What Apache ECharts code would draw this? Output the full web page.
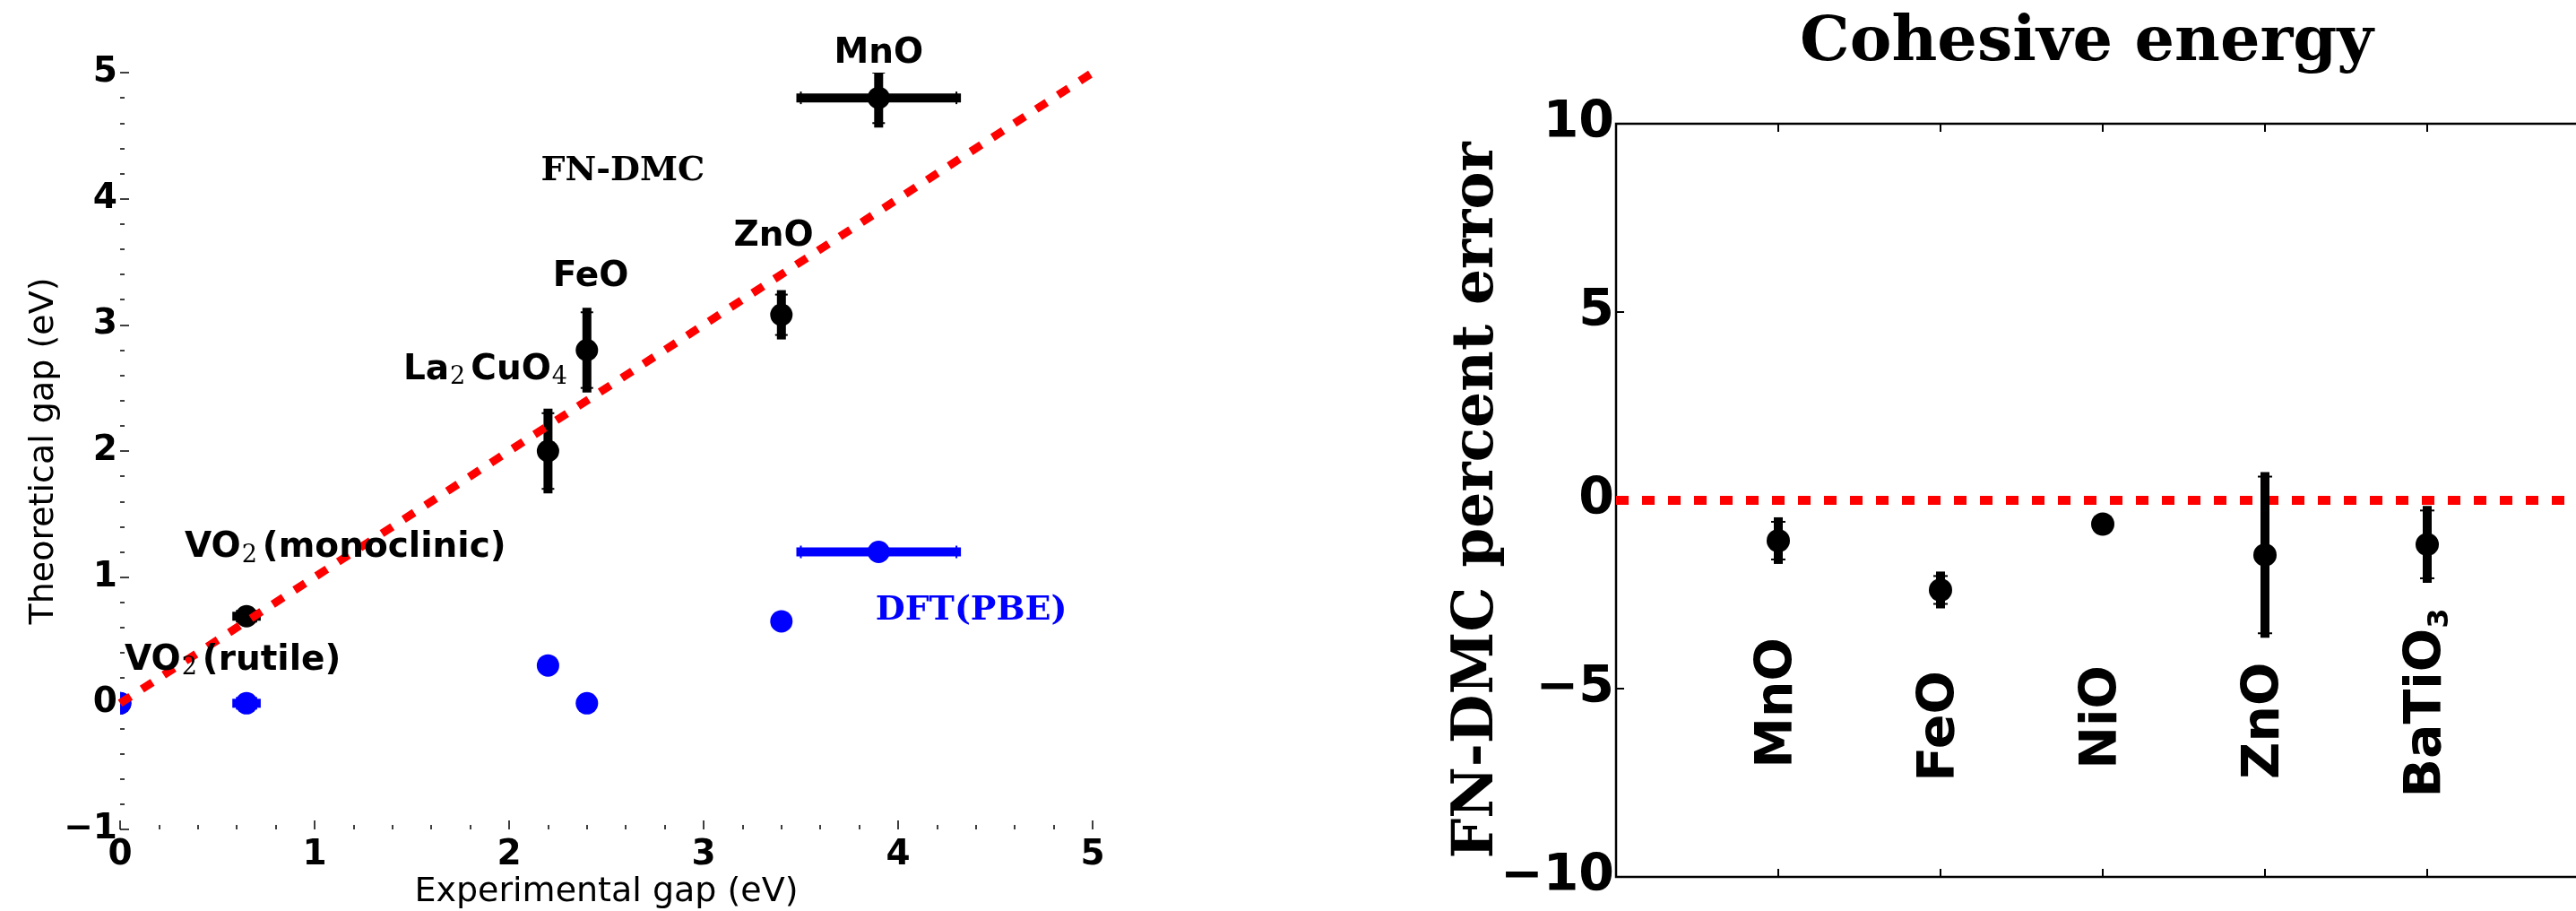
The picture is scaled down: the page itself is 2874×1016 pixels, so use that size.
<!DOCTYPE html>
<html>
<head>
<meta charset="utf-8">
<title>Band gaps and cohesive energy</title>
<script src="https://cdn.jsdelivr.net/npm/echarts@6/dist/echarts.min.js"></script>
<style>
  html, body { margin: 0; padding: 0; background: #fff; }
  #chart { width: 2874px; height: 1016px; }
</style>
</head>
<body>
<div id="chart"></div>
<script>
// left panel: band gaps (eV)
const gapLabels = ['{b|VO}{s|2}{b|(rutile)}', '{b|VO}{s|2}{b|(monoclinic)}', '{b|La}{s|2}{b|CuO}{s|4}', '{b|FeO}', '{b|ZnO}', '{b|MnO}']
const expGap = [0, 0.65, 2.2, 2.4, 3.4, 3.9]
const expGapErr = [0, 0.05, 0, 0, 0, 0.4]
const dmcGap = [0, 0.69, 2.0, 2.8, 3.08, 4.8]
const dmcGapErr = [0, 0, 0.3, 0.3, 0.16, 0.2]
const pbeGap = [0, 0, 0.3, 0, 0.65, 1.2]
// where each system name is written (data coords)
const gapLabelX = [0.023, 0.332, 1.456, 2.42, 3.36, 3.90]
const gapLabelY = [0.34, 1.23, 2.64, 3.38, 3.70, 5.15]
const gapLabelAlign = ['left', 'left', 'left', 'center', 'center', 'center']
const methodNames = ['FN-DMC', 'DFT(PBE)']
const methodX = [2.585, 4.376]
const methodY = [4.22, 0.736]
const parityLine = [[0, 0], [5, 5]]

// right panel: cohesive energy, FN-DMC percent error
const cohLabels = ['{b|MnO}', '{b|FeO}', '{b|NiO}', '{b|ZnO}', '{b|BaTiO}{s|3}']
const cohPos = [1, 2, 3, 4, 5]
const cohErr = [-1.07, -2.38, -0.63, -1.45, -1.17]
const cohErrBar = [0.5, 0.37, 0, 2.08, 0.9]
const cohLabelY = [-5.38, -6.0, -5.76, -5.85, -5.38]
const zeroLine = [[0, 0], [6, 0]]

const BLACK = '#000000'
const BLUE = '#0000ff'
const RED = '#ff0000'
const SANS = 'DejaVu Sans'
const SERIF = 'DejaVu Serif'

const minus = v => String(v).replace('-', '\u2212')

// dot + error bars, drawn through the axes' scales
function errorPoint(color, lw, capHalf, r) {
  return function (params, api) {
    const x = api.value(0), y = api.value(1), xe = api.value(2), ye = api.value(3)
    const c = api.coord([x, y])
    const kids = []
    const bar = { stroke: color, lineWidth: lw, lineCap: 'square' }
    const cap = { stroke: color, lineWidth: 2 }
    if (xe > 0) {
      const a = api.coord([x - xe, y]), b = api.coord([x + xe, y])
      kids.push({ type: 'line', shape: { x1: a[0], y1: a[1], x2: b[0], y2: b[1] }, style: bar })
      kids.push({ type: 'line', shape: { x1: a[0], y1: a[1] - capHalf, x2: a[0], y2: a[1] + capHalf }, style: cap })
      kids.push({ type: 'line', shape: { x1: b[0], y1: b[1] - capHalf, x2: b[0], y2: b[1] + capHalf }, style: cap })
    }
    if (ye > 0) {
      const a = api.coord([x, y - ye]), b = api.coord([x, y + ye])
      kids.push({ type: 'line', shape: { x1: a[0], y1: a[1], x2: b[0], y2: b[1] }, style: bar })
      kids.push({ type: 'line', shape: { x1: a[0] - capHalf, y1: a[1], x2: a[0] + capHalf, y2: a[1] }, style: cap })
      kids.push({ type: 'line', shape: { x1: b[0] - capHalf, y1: b[1], x2: b[0] + capHalf, y2: b[1] }, style: cap })
    }
    kids.push({ type: 'circle', shape: { cx: c[0], cy: c[1], r: r }, style: { fill: color } })
    return { type: 'group', children: kids }
  }
}

// text placed at a data point
function textAt(texts, rich, opts) {
  return function (params, api) {
    const i = params.dataIndex
    const p = api.coord([api.value(0), api.value(1)])
    return {
      type: 'text',
      x: p[0],
      y: p[1],
      rotation: opts.rotation || 0,
      style: {
        text: texts[i],
        rich: rich,
        fill: opts.color || BLACK,
        align: opts.align ? opts.align[i] : 'center',
        verticalAlign: 'middle'
      }
    }
  }
}

const gapRich = {
  b: { fontFamily: SANS, fontWeight: 'bold', fontSize: 39, lineHeight: 44, fill: BLACK },
  s: { fontFamily: SERIF, fontWeight: 'normal', fontSize: 27, lineHeight: 18, verticalAlign: 'bottom',
       padding: [0, 6, 0, 1], fill: BLACK }
}
const cohRich = {
  b: { fontFamily: SANS, fontWeight: 'bold', fontSize: 57, lineHeight: 62, fill: BLACK },
  s: { fontFamily: SANS, fontWeight: 'bold', fontSize: 32, lineHeight: 8, verticalAlign: 'bottom', fill: BLACK }
}

const tickStyle = { color: BLACK, width: 1.5 }

const option = {
  animation: false,
  backgroundColor: '#fff',
  title: {
    text: 'Cohesive energy',
    left: 2328,
    top: 14,
    padding: 0,
    textAlign: 'center',
    textStyle: { fontFamily: SERIF, fontWeight: 'bold', fontSize: 70, color: BLACK }
  },
  grid: [
    { left: 134, top: 81, width: 1085, height: 844, outerBoundsMode: 'none' },
    { left: 1803, top: 138, width: 1086, height: 840, outerBoundsMode: 'none',
      show: true, borderColor: BLACK, borderWidth: 2.5, backgroundColor: 'transparent' }
  ],
  xAxis: [
    {
      gridIndex: 0, type: 'value', min: 0, max: 5, interval: 1,
      axisLine: { show: false, onZero: false },
      axisTick: { inside: true, length: 10, lineStyle: tickStyle },
      minorTick: { show: true, splitNumber: 5, length: 5, lineStyle: tickStyle },
      splitLine: { show: false },
      axisLabel: { fontFamily: SANS, fontWeight: 'bold', fontSize: 39, color: BLACK, margin: 9, formatter: minus },
      name: 'Experimental gap (eV)', nameLocation: 'middle', nameGap: 51, nameMoveOverlap: false,
      nameTextStyle: { fontFamily: SANS, fontSize: 38, color: BLACK }
    },
    {
      gridIndex: 1, type: 'value', min: 0, max: 6, interval: 1,
      axisLine: { show: false, onZero: false },
      axisTick: { inside: true, length: 9, lineStyle: { color: BLACK, width: 2 } },
      splitLine: { show: false },
      axisLabel: { show: false }
    },
    {
      gridIndex: 1, type: 'value', position: 'top', min: 0, max: 6, interval: 1,
      axisLine: { show: false, onZero: false },
      axisTick: { inside: true, length: 9, lineStyle: { color: BLACK, width: 2 } },
      splitLine: { show: false },
      axisLabel: { show: false }
    }
  ],
  yAxis: [
    {
      gridIndex: 0, type: 'value', min: -1, max: 5, interval: 1,
      axisLine: { show: false, onZero: false },
      axisTick: { inside: true, length: 10, lineStyle: tickStyle },
      minorTick: { show: true, splitNumber: 5, length: 5, lineStyle: tickStyle },
      splitLine: { show: false },
      axisLabel: { fontFamily: SANS, fontWeight: 'bold', fontSize: 39, color: BLACK, margin: 3, formatter: minus },
      name: 'Theoretical gap (eV)', nameLocation: 'middle', nameRotate: 90, nameGap: 66, nameMoveOverlap: false,
      nameTextStyle: { fontFamily: SANS, fontSize: 38, color: BLACK }
    },
    {
      gridIndex: 1, type: 'value', min: -10, max: 10, interval: 5,
      axisLine: { show: false, onZero: false },
      axisTick: { inside: true, length: 9, lineStyle: { color: BLACK, width: 2 } },
      splitLine: { show: false },
      axisLabel: { fontFamily: SANS, fontWeight: 'bold', fontSize: 57, color: BLACK, margin: 2, formatter: minus },
      name: 'FN-DMC percent error', nameLocation: 'middle', nameRotate: 90, nameGap: 123, nameMoveOverlap: false,
      nameTextStyle: { fontFamily: SERIF, fontWeight: 'bold', fontSize: 63, color: BLACK }
    }
  ],
  series: [
    // FN-DMC gaps
    {
      type: 'custom', xAxisIndex: 0, yAxisIndex: 0, clip: true, z: 3,
      data: expGap.map((x, i) => [x, dmcGap[i], expGapErr[i], dmcGapErr[i]]),
      renderItem: errorPoint(BLACK, 10, 7, 12.5)
    },
    // DFT(PBE) gaps
    {
      type: 'custom', xAxisIndex: 0, yAxisIndex: 0, clip: true, z: 3,
      data: expGap.map((x, i) => [x, pbeGap[i], expGapErr[i], 0]),
      renderItem: errorPoint(BLUE, 10, 7, 12.5)
    },
    // parity line
    {
      type: 'line', xAxisIndex: 0, yAxisIndex: 0, data: parityLine, symbol: 'none', z: 4,
      lineStyle: { color: RED, width: 9, type: [14, 15], cap: 'butt' }
    },
    // system names, left
    {
      type: 'custom', xAxisIndex: 0, yAxisIndex: 0, z: 5,
      data: gapLabelX.map((x, i) => [x, gapLabelY[i]]),
      renderItem: textAt(gapLabels, gapRich, { align: gapLabelAlign })
    },
    // method names
    {
      type: 'custom', xAxisIndex: 0, yAxisIndex: 0, z: 5,
      data: methodX.map((x, i) => [x, methodY[i]]),
      renderItem: function (params, api) {
        const i = params.dataIndex
        const p = api.coord([api.value(0), api.value(1)])
        return {
          type: 'text', x: p[0], y: p[1],
          style: {
            text: methodNames[i], fill: i === 0 ? BLACK : BLUE,
            font: 'bold 38px "DejaVu Serif"', align: 'center', verticalAlign: 'middle'
          }
        }
      }
    },
    // right panel: zero line
    {
      type: 'line', xAxisIndex: 1, yAxisIndex: 1, data: zeroLine, symbol: 'none', z: 2,
      lineStyle: { color: RED, width: 10, type: [14, 15], cap: 'butt' }
    },
    // cohesive energy errors
    {
      type: 'custom', xAxisIndex: 1, yAxisIndex: 1, clip: true, z: 3,
      data: cohPos.map((x, i) => [x, cohErr[i], 0, cohErrBar[i]]),
      renderItem: errorPoint(BLACK, 10, 8, 13)
    },
    // rotated system names
    {
      type: 'custom', xAxisIndex: 1, yAxisIndex: 1, z: 5,
      data: cohPos.map((x, i) => [x, cohLabelY[i]]),
      renderItem: textAt(cohLabels, cohRich, { rotation: Math.PI / 2 })
    }
  ]
}

const chart = echarts.init(document.getElementById('chart'))
chart.setOption(option)
window.addEventListener('resize', () => chart.resize())
</script>
</body>
</html>
